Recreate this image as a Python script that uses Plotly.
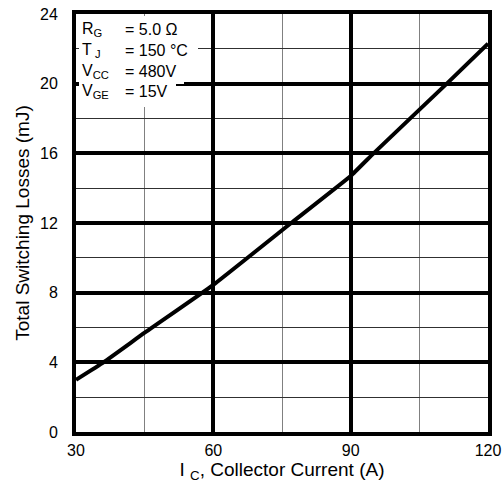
import plotly.graph_objects as go

# Data
ic_current = [30, 36, 45, 60, 77, 90, 95, 111, 120]
total_losses = [3.0, 4.0, 5.7, 8.45, 12.0, 14.7, 16.0, 20.0, 22.3]

x_ticks = [30, 60, 90, 120]
y_ticks = [0, 4, 8, 12, 16, 20, 24]

cond_labels = ["R<sub>G</sub>", "T<sub> J</sub>", "V<sub>CC</sub>", "V<sub>GE</sub>"]
cond_values = ["= 5.0 \u03a9", "= 150 \u00b0C", "= 480V", "= 15V"]

FONT = "Liberation Sans, Arial, sans-serif"
W, H = 504, 490
L, R, T, B = 76, 16, 14, 58
PW, PH = W - L - R, H - T - B

def px_x(px):
    return (px - L) / PW

def px_y(py):
    return (H - B - py) / PH

fig = go.Figure()
fig.add_trace(go.Scatter(
    x=ic_current, y=total_losses, mode="lines",
    line=dict(color="black", width=4, shape="spline", smoothing=0.3),
    showlegend=False, hoverinfo="skip",
))

# white background behind the condition text block
rows_box = [(16, 40, 192), (40, 61, 198), (61, 84, 184), (84, 107, 176)]
for y0, y1, x1 in rows_box:
    fig.add_shape(type="rect", xref="paper", yref="paper",
                  x0=px_x(79), x1=px_x(x1), y0=px_y(y1), y1=px_y(y0),
                  fillcolor="white", line=dict(width=0), layer="above")

row_centers = [30, 50, 71, 92]
for lab, val, yc in zip(cond_labels, cond_values, row_centers):
    fig.add_annotation(xref="paper", yref="paper", x=px_x(80), y=px_y(yc),
                       xanchor="left", yanchor="middle", text=lab, showarrow=False,
                       font=dict(family=FONT, size=16, color="black"))
    fig.add_annotation(xref="paper", yref="paper", x=px_x(123), y=px_y(yc),
                       xanchor="left", yanchor="middle", text=val, showarrow=False,
                       font=dict(family=FONT, size=16, color="black"))

fig.update_xaxes(
    range=[30, 120], tickvals=x_ticks, ticktext=[str(v) for v in x_ticks],
    showgrid=True, gridcolor="black", gridwidth=4,
    minor=dict(dtick=15, tick0=30, showgrid=True, gridcolor="#808080", gridwidth=1),
    showline=True, linecolor="black", linewidth=4, mirror=True,
    zeroline=False, ticks="", ticklabelstandoff=1, automargin=False,
    tickfont=dict(family=FONT, size=16, color="black"),
    title=dict(text="I <sub>C</sub>, Collector Current (A)", standoff=4,
               font=dict(family=FONT, size=19, color="black")),
)
fig.update_yaxes(
    range=[0, 24], tickvals=y_ticks, ticktext=[str(v) for v in y_ticks],
    showgrid=True, gridcolor="black", gridwidth=4,
    minor=dict(dtick=2, tick0=0, showgrid=True, gridcolor="#303030", gridwidth=1),
    showline=True, linecolor="black", linewidth=4, mirror=True,
    zeroline=False, ticks="", ticklabelstandoff=11, automargin=False,
    tickfont=dict(family=FONT, size=16, color="black"),
    title=dict(text="Total Switching Losses (mJ)", standoff=6,
               font=dict(family=FONT, size=19, color="black")),
)
fig.update_layout(
    width=W, height=H, margin=dict(l=L, r=R, t=T, b=B, autoexpand=False),
    plot_bgcolor="white", paper_bgcolor="white",
)
fig.write_html("out.html", config={"displayModeBar": False},
               post_script="document.body.style.margin='0';")
